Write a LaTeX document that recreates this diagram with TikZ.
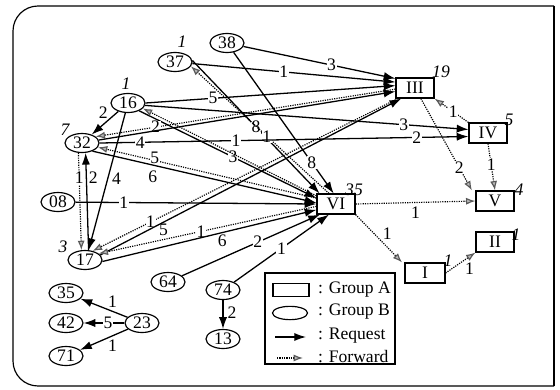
\documentclass[tikz,border=0pt]{standalone}
\usepackage{fontspec}
\setmainfont{Liberation Serif}
\usetikzlibrary{arrows.meta,shapes.geometric}
\usetikzlibrary{positioning}
\tikzset{>=latex}

\begin{document}
\begin{tikzpicture}[x=0.03cm, y=-0.03cm,
    every node/.style={font=\fontsize{15}{17}\selectfont},
    grpA/.style={rectangle, draw, line width=1pt, minimum width=1.14cm, minimum height=0.6cm, inner sep=0pt},
    grpB/.style={ellipse, draw, line width=1pt, minimum width=1.02cm, minimum height=0.57cm, inner sep=0pt},
    req/.style={line width=1.1pt, -{Latex[length=10pt,width=7pt]}},
    fwd/.style={densely dotted, line width=1pt, -{Latex[length=8pt,width=6pt,fill=gray!55,color=gray!70!black]}},
    lab/.style={fill=white, inner sep=0.6pt},
    cnt/.style={font=\fontsize{15}{17}\selectfont\itshape, inner sep=0pt}]
    \useasboundingbox (0,0) rectangle (560,389);
    % frame
    \draw[line width=1pt, rounded corners=0.75cm] (554,6) -- (13,6) -- (13,386) -- (554,386);
    \draw[line width=1pt] (554,6) -- (554,386);

    % group B
    \node[grpB] (n37) at (175,62) {37};
    \node[grpB] (n38) at (227,43) {38};
    \node[grpB] (n16) at (128,103) {16};
    \node[grpB] (n32) at (82,143) {32};
    \node[grpB] (n08) at (58,202) {08};
    \node[grpB] (n17) at (85,260) {17};
    \node[grpB] (n64) at (168,282) {64};
    \node[grpB] (n74) at (223,290) {74};
    \node[grpB] (n13) at (223,339) {13};
    \node[grpB] (n23) at (142,323) {23};
    \node[grpB] (n42) at (66,323) {42};
    \node[grpB] (n35) [above=0.9cm of n42.center, anchor=center] {35};
    \node[grpB] (n71) [below=0.99cm of n42.center, anchor=center] {71};
    % group A
    \node[grpA] (gIII) at (415,88) {III};
    \node[grpA] (gIV) at (488,133) {IV};
    \node[grpA] (gV) at (495,201) {V};
    \node[grpA] (gVI) at (336,204) {VI};
    \node[grpA, minimum width=1.2cm] (gI) at (425,273) {I};
    \node[grpA] (gII) at (495,242) {II};

    % counts
    \node[cnt] at (182,42) {1};
    \node[cnt] at (126,84) {1};
    \node[cnt] at (65,130) {7};
    \node[cnt] at (63,247) {3};
    \node[cnt] at (441,72) {19};
    \node[cnt] at (509,120) {5};
    \node[cnt] at (519,190) {4};
    \node[cnt] at (354,190) {35};
    \node[cnt] at (448,261) {1};
    \node[cnt] at (516,235) {1};

    % requests and forwards
    \draw[req] (n38) -- node[lab,pos=0.58]{3} ([yshift=-1pt]gIII.north west);
    \draw[req] (n38) -- node[lab,pos=0.78]{8} ([xshift=-2pt]gVI.north);
    \draw[req] (n37) -- node[lab,pos=0.45]{1} ([yshift=-4pt]gIII.north west);
    \draw[req] (n37.5) -- node[lab,pos=0.5]{8} ([xshift=-14pt]gVI.north);
    \draw[fwd] ([xshift=-6pt]gVI.north) -- node[lab,pos=0.45]{1} (n37.-15);
    \draw[req] (n16.east) -- node[lab,pos=0.27]{5} ([yshift=-7pt]gIII.north west);
    \draw[req] (n16.-8) -- node[lab,pos=0.8]{3} ([yshift=3pt]gIV.west);
    \draw[req] (n16.-35) -- node[lab,pos=0.53]{3} ([yshift=5pt]gVI.west);
    \draw[fwd] ([yshift=7pt]gVI.west) -- (n16.-20);
    \draw[req] (n16) -- node[lab,pos=0.35,above left]{2} (n32);
    \draw[req] (n16) -- node[pos=0.48,right]{4} (n17.70);
    \draw[fwd] ([yshift=-10pt]gIII.north west) -- node[lab,pos=0.8]{2} (n32.25);
    \draw[req] (n32.10) -- ([yshift=-12pt]gIII.north west);
    \draw[req] (n32.east) -- node[lab,pos=0.11]{4} node[lab,pos=0.37]{1} node[lab,pos=0.86]{2} ([yshift=-3pt]gIV.west);
    \draw[fwd] ([yshift=5pt]gVI.west) -- node[lab,pos=0.74,yshift=2pt]{5} (n32.-15);
    \draw[req] (n32.-38) -- node[pos=0.27,below,inner sep=2.5pt,yshift=-1.5pt]{6} ([yshift=1pt]gVI.west);
    \draw[fwd] (n32.-110) -- node[lab,pos=0.26]{1} (n17.110);
    \draw[req] (n17.70) -- node[pos=0.74,right,inner sep=1.5pt]{2} (n32.-70);
    \draw[req] (n08) -- node[lab,pos=0.2]{1} (gVI.west);
    \draw[fwd] ([xshift=2pt]gIII.south west) -- node[lab,pos=0.81]{1} (n17.50);
    \draw[req] (n17.18) -- node[pos=0.21,below,inner sep=1pt]{5} ([xshift=5pt]gIII.south west);
    \draw[fwd] ([yshift=-2pt]gVI.west) -- node[lab,pos=0.53]{1} (n17.25);
    \draw[req] (n17.-5) -- node[pos=0.56,below,inner sep=1pt]{6} ([yshift=-5pt]gVI.west);
    \draw[req] (n64) -- node[lab,pos=0.55]{2} ([xshift=3pt]gVI.south west);
    \draw[req] (n74) -- node[lab,pos=0.5]{1} ([xshift=-6pt]gVI.south);
    \draw[req] (n74) -- node[pos=0.45,right]{2} (n13);
    \draw[req] (n23) -- node[pos=0.45,above right,inner sep=1pt]{1} (n35);
    \draw[req] (n23) -- node[lab,pos=0.4]{5} (n42);
    \draw[req] (n23) -- node[pos=0.45,below right,inner sep=1pt]{1} (n71);
    \draw[fwd] (gIV.north west) -- node[lab,pos=0.45]{1} (gIII.south east);
    \draw[fwd] ([xshift=5pt]gIII.south) -- node[lab,pos=0.75]{2} ([xshift=-3pt]gV.north west);
    \draw[fwd] (gIV.south) -- node[lab,pos=0.45]{1} (gV.north);
    \draw[fwd] (gVI.east) -- node[pos=0.5,below]{1} (gV.west);
    \draw[fwd] (gVI.south east) -- node[pos=0.55,above right,inner sep=1pt]{1} ([xshift=-2pt]gI.north west);
    \draw[fwd] (gI.east) -- node[pos=0.6,below right,inner sep=1pt]{1} (gII.south west);

    % legend
    \draw[line width=1pt] (265,273) rectangle (395,364);
    \node[grpA, minimum width=1.08cm, minimum height=0.4cm] (keyA) at (291,290) {};
    \node[grpB, minimum width=1.05cm, minimum height=0.4cm] (keyB) at (290,313) {};
    \coordinate (keyReqL) at (275,337);
    \coordinate (keyReqR) at (306,337);
    \coordinate (keyFwdL) at (277,358);
    \coordinate (keyFwdR) at (303,358);
    \draw[req] (keyReqL) -- (keyReqR);
    \draw[fwd] (keyFwdL) -- (keyFwdR);
    \node[anchor=west] at (314,290) {: Group A};
    \node[anchor=west] at (314,312) {: Group B};
    \node[anchor=west] at (314,336) {: Request};
    \node[anchor=west] at (314,357) {: Forward};
\end{tikzpicture}
\end{document}
